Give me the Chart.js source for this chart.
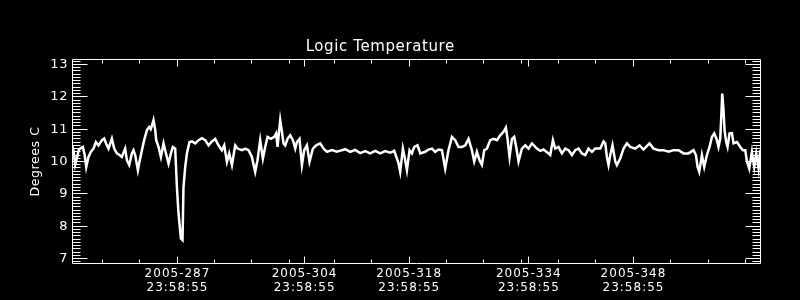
<!DOCTYPE html>
<html><head><meta charset="utf-8">
<script src="https://cdn.jsdelivr.net/npm/chart.js@4"></script>
<style>html,body{margin:0;padding:0;background:#000;}canvas{display:block;}</style>
</head><body>
<canvas id="c" width="800" height="300"></canvas>
<script>
const chartTitle = 'Logic Temperature';
const yAxisTitle = 'Degrees C';

// Day of year 2005 (fractional) for each sample
const days = [
273.91,274.11,274.31,274.54,274.78,274.98,275.34,275.58,275.79,276.09,
276.41,276.76,277.08,277.43,277.89,278.19,278.46,278.77,279.22,279.53,
279.89,280.24,280.56,281.0,281.23,281.54,281.9,282.11,282.34,282.7,
282.92,283.24,283.54,283.91,284.21,284.41,284.57,284.79,285.02,285.15,
285.46,285.78,286.13,286.35,286.8,287.12,287.38,287.69,287.92,288.13,
288.45,288.67,288.8,289.03,289.26,289.6,289.93,290.37,290.81,291.26,
291.71,292.15,292.6,293.04,293.48,293.94,294.25,294.61,294.92,295.28,
295.72,296.03,296.62,297.06,297.5,297.95,298.39,298.7,299.06,299.42,
299.73,300.04,300.49,300.94,301.2,301.38,301.74,301.97,302.18,302.41,
302.72,303.08,303.44,303.75,303.97,304.32,304.64,304.95,305.31,305.66,
306.11,306.55,307.09,307.53,307.99,308.66,309.32,309.99,310.43,311.1,
311.77,312.44,313.11,313.78,314.45,315.12,315.79,316.45,316.99,317.57,
317.79,318.15,318.46,318.69,319.04,319.36,319.67,320.11,320.47,321.14,
321.58,322.03,322.47,322.92,323.37,323.81,324.25,324.71,325.15,325.59,
326.05,326.49,326.93,327.38,327.69,328.05,328.4,328.72,329.03,329.39,
329.83,330.27,330.73,331.17,331.61,331.93,332.15,332.42,332.74,333.04,
333.31,333.62,334.07,334.52,334.96,335.41,336.08,336.52,336.96,337.63,
337.86,338.22,338.53,338.97,339.42,339.87,340.31,340.76,341.2,341.65,
342.1,342.54,342.98,343.44,343.88,344.55,344.99,345.22,345.44,345.66,
345.89,346.19,346.56,346.78,347.22,347.67,348.12,348.56,349.23,349.81,
350.34,351.14,351.68,352.35,353.02,353.69,354.36,355.02,355.69,356.36,
357.03,357.35,357.57,357.79,358.15,358.46,358.82,359.17,359.49,359.8,
360.16,360.37,360.6,360.74,360.87,361.04,361.18,361.4,361.58,361.85,
362.17,362.38,362.84,363.28,363.64,363.95,364.17,364.48,364.84,365.15,
365.42,365.73,365.95
];

// Logic temperature, degrees C
const temps = [
10.5,10.3,9.9,10.1,10.35,10.4,10.45,10.2,9.83,10.14,
10.3,10.4,10.6,10.5,10.66,10.71,10.55,10.4,10.71,10.4,
10.25,10.2,10.14,10.4,10.04,9.89,10.25,10.35,10.2,9.73,
10.0,10.35,10.66,10.97,11.07,11.0,11.1,11.28,10.97,10.66,
10.45,10.14,10.56,10.35,9.94,10.25,10.45,10.4,9.21,8.4,
7.62,7.57,9.21,9.83,10.25,10.6,10.62,10.56,10.66,10.72,
10.66,10.5,10.62,10.7,10.5,10.35,10.5,9.99,10.25,9.89,
10.5,10.4,10.35,10.4,10.35,10.14,9.68,10.04,10.66,10.09,
10.45,10.76,10.7,10.76,10.87,10.45,11.28,10.92,10.56,10.5,
10.7,10.81,10.66,10.4,10.6,10.7,9.89,10.35,10.5,9.99,
10.4,10.5,10.56,10.4,10.3,10.35,10.3,10.35,10.38,10.3,
10.36,10.26,10.32,10.25,10.33,10.25,10.32,10.27,10.33,9.94,
9.68,10.4,10.04,9.73,10.35,10.25,10.45,10.5,10.25,10.3,
10.37,10.4,10.3,10.37,10.35,9.78,10.35,10.76,10.66,10.45,
10.45,10.5,10.7,10.35,10.0,10.3,10.04,9.9,10.35,10.4,
10.66,10.7,10.66,10.81,10.92,11.05,10.7,10.14,10.7,10.76,
10.45,10.0,10.4,10.5,10.4,10.56,10.4,10.33,10.37,10.25,
10.2,10.66,10.4,10.45,10.25,10.4,10.35,10.2,10.35,10.4,
10.25,10.2,10.4,10.3,10.4,10.4,10.62,10.56,10.14,9.89,
10.2,10.5,10.0,9.89,10.09,10.4,10.56,10.45,10.4,10.5,
10.37,10.56,10.4,10.35,10.35,10.3,10.35,10.35,10.25,10.25,
10.35,10.2,9.83,9.68,10.2,9.83,10.2,10.45,10.76,10.87,
10.66,10.45,10.7,11.38,12.1,11.59,10.97,10.6,10.45,10.87,
10.88,10.56,10.6,10.45,10.35,10.35,10.0,9.78,10.3,9.83,
10.25,9.78,10.35
];

const xMajorTicks = [287.999, 304.999, 318.999, 334.999, 348.999];
const xTickDates = ['2005-287', '2005-304', '2005-318', '2005-334', '2005-348'];
const xTickTime = '23:58:55';
const xMinorTicks = [278.02, 282.92, 292.95, 297.9, 302.98, 309.0, 313.95, 323.95, 328.94, 334.02, 338.97, 343.92, 353.95, 359.04, 363.99];
const xRange = [273.953, 365.988];

const yMajorTicks = [7, 8, 9, 10, 11, 12, 13];
const yMinorStep = 0.1;
const yRange = [6.8454, 13.1546];

const yMinorTicks = [];
for (let k = Math.ceil(yRange[0] / yMinorStep); k <= Math.floor(yRange[1] / yMinorStep); k++) {
  if (k % 10 !== 0) yMinorTicks.push(k * yMinorStep);
}

const FONT = "'DejaVu Sans', sans-serif";

const idlFrame = {
  id: 'idlFrame',
  beforeDraw(chart) { chart.ctx.letterSpacing = '0.6px'; },
  afterDatasetsDraw(chart) {
    const {ctx, chartArea: a, scales} = chart;
    const xs = scales.x, ys = scales.y;
    const snap = v => Math.round(v - 0.5) + 0.5;
    ctx.save();
    ctx.letterSpacing = '0px';
    ctx.strokeStyle = '#ffffff';
    ctx.lineWidth = 1;
    ctx.beginPath();
    ctx.rect(a.left, a.top, a.right - a.left, a.bottom - a.top);
    const yTick = (v, len) => {
      const p = snap(ys.getPixelForValue(v));
      ctx.moveTo(a.left, p); ctx.lineTo(a.left + len, p);
      ctx.moveTo(a.right, p); ctx.lineTo(a.right - len, p);
    };
    const xTick = (v, len) => {
      const p = snap(xs.getPixelForValue(v));
      ctx.moveTo(p, a.bottom); ctx.lineTo(p, a.bottom - len);
      ctx.moveTo(p, a.top); ctx.lineTo(p, a.top + len);
    };
    yMajorTicks.forEach(v => yTick(v, 15));
    yMinorTicks.forEach(v => yTick(v, 8));
    xMajorTicks.forEach(v => xTick(v, 7));
    xMinorTicks.forEach(v => xTick(v, 4));
    ctx.stroke();
    ctx.restore();
    ctx.letterSpacing = '1px';
  },
  afterDraw(chart) { chart.ctx.letterSpacing = '0px'; }
};

new Chart(document.getElementById('c'), {
  type: 'line',
  data: {
    datasets: [{
      data: days.map((d, i) => ({x: d, y: temps[i]})),
      borderColor: '#ffffff',
      borderWidth: 2.5,
      pointRadius: 0,
      tension: 0,
      fill: false
    }]
  },
  options: {
    responsive: false,
    animation: false,
    devicePixelRatio: 1,
    layout: {padding: {left: 0, right: 39.5, top: 0, bottom: 0}},
    plugins: {
      legend: {display: false},
      tooltip: {enabled: false},
      title: {
        display: true,
        text: chartTitle,
        color: '#ffffff',
        font: {family: FONT, size: 15, weight: 'normal', lineHeight: 1.2},
        padding: {top: 38, bottom: 3.5}
      }
    },
    scales: {
      x: {
        type: 'linear',
        min: xRange[0],
        max: xRange[1],
        afterBuildTicks: s => { s.ticks = xMajorTicks.map(v => ({value: v})); },
        afterFit: s => { s.height = 36.5; },
        grid: {display: false, drawTicks: false},
        border: {display: false},
        ticks: {
          z: 1,
          color: '#ffffff',
          autoSkip: false,
          maxRotation: 0,
          padding: 3,
          font: {family: FONT, size: 12, lineHeight: '14px'},
          callback: (v, i) => [xTickDates[i], xTickTime]
        }
      },
      y: {
        type: 'linear',
        min: yRange[0],
        max: yRange[1],
        afterBuildTicks: s => { s.ticks = yMajorTicks.map(v => ({value: v})); },
        afterFit: s => { s.width = 72.5; },
        grid: {display: false, drawTicks: false},
        border: {display: false},
        ticks: {
          color: '#ffffff',
          padding: 4.5,
          font: {family: FONT, size: 13},
          callback: v => String(v)
        },
        title: {
          display: true,
          text: yAxisTitle,
          color: '#ffffff',
          font: {family: FONT, size: 12.5, lineHeight: 1.2},
          padding: {top: 28, bottom: 0}
        }
      }
    }
  },
  plugins: [idlFrame]
});
</script>
</body></html>
